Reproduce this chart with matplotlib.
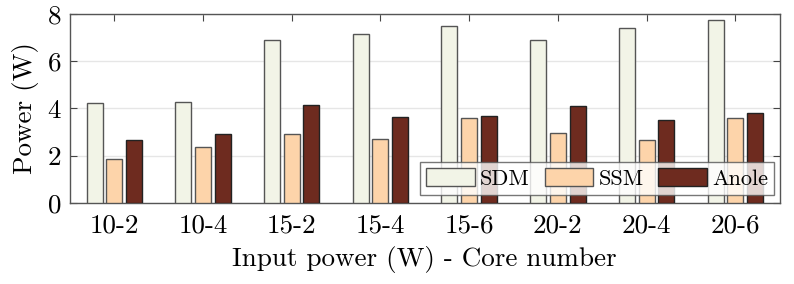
import numpy as np
import matplotlib
matplotlib.use('Agg')
import matplotlib.pyplot as plt

plt.rcParams['font.family'] = ['cmr10', 'DejaVu Serif']
plt.rcParams['axes.formatter.use_mathtext'] = True

groups = ['10-2', '10-4', '15-2', '15-4', '15-6', '20-2', '20-4', '20-6']
SDM = [4.22, 4.29, 6.89, 7.17, 7.49, 6.89, 7.40, 7.75]
SSM = [1.88, 2.36, 2.91, 2.72, 3.60, 2.95, 2.68, 3.61]
Anole = [2.67, 2.91, 4.14, 3.66, 3.70, 4.10, 3.52, 3.81]

names = ['SDM', 'SSM', 'Anole']
colors = ['#F2F4E7', '#FDD4AA', '#6E2B1F']
edges = ['#555555', '#555555', '#222222']

fig = plt.figure(figsize=(7.94, 2.84), dpi=100)
ax = fig.add_axes([0.088, 0.285, 0.894, 0.666])

x = np.arange(1, len(groups) + 1)
w = 0.18
step = 0.222
for i, (vals, nm) in enumerate(zip([SDM, SSM, Anole], names)):
    ax.bar(x + (i - 1) * step, vals, w, color=colors[i], edgecolor=edges[i],
           linewidth=1.0, label=nm, zorder=3)

ax.set_xlim(0.5, 8.5)
ax.set_ylim(0, 8)
ax.set_yticks([0, 2, 4, 6, 8])
ax.set_xticks(x)
ax.set_xticklabels(groups)
ax.tick_params(axis='both', direction='in', labelsize=19.5, top=True, right=True,
               length=5, color='#444444')
ax.tick_params(axis='x', pad=8)
ax.tick_params(axis='y', pad=6)
ax.grid(axis='y', color='#e6e6e6', linewidth=1, zorder=0)
for s in ax.spines.values():
    s.set_color('#555555')
    s.set_linewidth(1)

ax.set_ylabel('Power (W)', fontsize=19.5, labelpad=6)
ax.set_xlabel('Input power (W) - Core number', fontsize=19.5, labelpad=6)

leg = ax.legend(loc='lower right', ncol=3, fontsize=16, frameon=True, fancybox=False,
                edgecolor='#555555', handlelength=2.2, handleheight=0.85,
                columnspacing=0.65, handletextpad=0.22, borderpad=0.28,
                borderaxespad=0, bbox_to_anchor=(0.992, 0.042))
leg.get_frame().set_linewidth(1)
leg.set_zorder(5)

fig.savefig('out.png', dpi=100)
